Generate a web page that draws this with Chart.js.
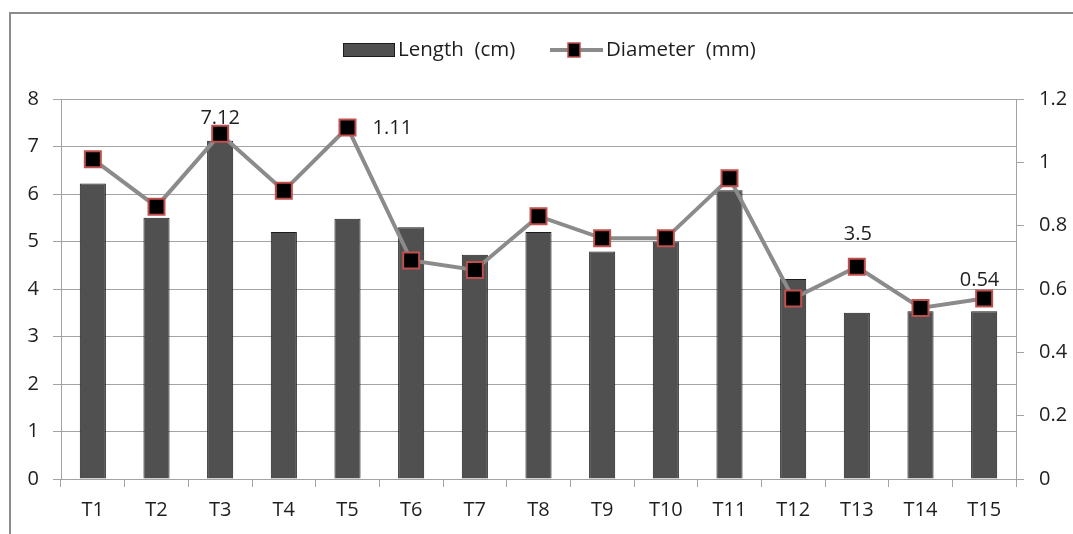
<!DOCTYPE html>
<html>
<head>
<meta charset="utf-8">
<script src="https://cdn.jsdelivr.net/npm/chart.js@4.4.1/dist/chart.umd.min.js"></script>
<style>
  html, body { margin: 0; padding: 0; background: #fff; }
  #wrap { position: relative; width: 1073px; height: 534px; overflow: hidden; }
  #frame { position: absolute; left: 9px; top: 12px; width: 1200px; height: 700px;
           border-top: 2px solid #8c8c8c; border-left: 2px solid #8c8c8c; }
  canvas { position: absolute; left: 0; top: 0; }
</style>
</head>
<body>
<div id="wrap">
  <div id="frame"></div>
  <canvas id="chart" width="1073" height="534"></canvas>
</div>
<script>
// Treatments on the category axis
const categories = ['T1', 'T2', 'T3', 'T4', 'T5', 'T6', 'T7', 'T8', 'T9', 'T10', 'T11', 'T12', 'T13', 'T14', 'T15'];

// Length (cm), left axis
const lengthCm = [6.22, 5.5, 7.12, 5.2, 5.48, 5.3, 4.72, 5.2, 4.79, 5.0, 6.08, 4.21, 3.5, 3.53, 3.53];

// Diameter (mm), right axis
const diameterMm = [1.01, 0.86, 1.09, 0.91, 1.11, 0.69, 0.66, 0.83, 0.76, 0.76, 0.95, 0.57, 0.67, 0.54, 0.57];

// Tick labels for both value axes
const lengthTicks = ['0', '1', '2', '3', '4', '5', '6', '7', '8'];
const diameterTicks = ['0', '0.2', '0.4', '0.6', '0.8', '1', '1.2'];

// Series names
const seriesNames = ['Length  (cm)', 'Diameter  (mm)'];

const FONT = '"Open Sans", "Liberation Sans", sans-serif';
const TICK_SIZE = 20;
const TEXT = '#1e1e1e';
const GRID = '#a3a3a3';
const BAR_FILL = '#505050';
const BAR_EDGE = '#1c1c1c';
const LINE = '#8b8b8b';
const MARK_FILL = '#000000';
const MARK_EDGE = '#c0504d';

// Callouts: which dataset/point supplies the text, and where it sits relative to that point
const callouts = [
  { dataset: 0, index: 2,  dx: 0,  dy: -23, align: 'center' },
  { dataset: 1, index: 4,  dx: 25, dy: 1,   align: 'left' },
  { dataset: 0, index: 12, dx: 1,  dy: -78, align: 'center' },
  { dataset: 1, index: 13, dx: 59, dy: -28, align: 'center' }
];

const calloutPlugin = {
  id: 'callouts',
  afterDatasetsDraw(chart) {
    const ctx = chart.ctx;
    ctx.save();
    ctx.font = TICK_SIZE + 'px ' + FONT;
    ctx.fillStyle = TEXT;
    ctx.textBaseline = 'middle';
    callouts.forEach(c => {
      const el = chart.getDatasetMeta(c.dataset).data[c.index];
      const value = chart.data.datasets[c.dataset].data[c.index];
      ctx.textAlign = c.align;
      ctx.fillText(String(value), el.x + c.dx, el.y + c.dy);
    });
    ctx.restore();
  }
};

// Legend across the top: a filled box for the bars, a line with a square marker for the line series
const legendPlugin = {
  id: 'topLegend',
  afterDraw(chart) {
    const ctx = chart.ctx;
    const cy = 50;
    ctx.save();
    ctx.font = '20.5px ' + FONT;
    ctx.textBaseline = 'middle';
    ctx.textAlign = 'left';

    // bar swatch
    ctx.fillStyle = BAR_FILL;
    ctx.strokeStyle = BAR_EDGE;
    ctx.lineWidth = 1;
    ctx.fillRect(343, cy - 7, 52, 14);
    ctx.strokeRect(343.5, cy - 6.5, 51, 13);
    ctx.fillStyle = TEXT;
    ctx.fillText(seriesNames[0], 398, cy);

    // line swatch with marker
    ctx.strokeStyle = LINE;
    ctx.lineWidth = 4;
    ctx.beginPath();
    ctx.moveTo(550, cy);
    ctx.lineTo(603, cy);
    ctx.stroke();
    const mx = 574;
    ctx.fillStyle = MARK_FILL;
    ctx.fillRect(mx - 6, cy - 7, 12, 14);
    ctx.strokeStyle = MARK_EDGE;
    ctx.lineWidth = 1.5;
    ctx.strokeRect(mx - 6, cy - 7, 12, 14);
    ctx.fillStyle = TEXT;
    ctx.fillText(seriesNames[1], 606, cy);
    ctx.restore();
  }
};

new Chart(document.getElementById('chart'), {
  data: {
    labels: categories,
    datasets: [
      {
        type: 'bar',
        label: seriesNames[0],
        data: lengthCm,
        yAxisID: 'y',
        backgroundColor: BAR_FILL,
        borderColor: BAR_EDGE,
        borderWidth: 1,
        barPercentage: 0.41,
        categoryPercentage: 1,
        order: 2
      },
      {
        type: 'line',
        label: seriesNames[1],
        data: diameterMm,
        yAxisID: 'y1',
        borderColor: LINE,
        borderWidth: 4,
        tension: 0,
        fill: false,
        pointStyle: 'rect',
        pointRadius: 11.3,
        pointHoverRadius: 11.3,
        pointBackgroundColor: MARK_FILL,
        pointBorderColor: MARK_EDGE,
        pointBorderWidth: 2,
        pointHoverBorderWidth: 2,
        order: 1
      }
    ]
  },
  options: {
    responsive: false,
    devicePixelRatio: 1,
    animation: false,
    events: [],
    layout: { padding: { top: 99, left: 0, right: 0, bottom: 0 } },
    plugins: {
      legend: { display: false },
      tooltip: { enabled: false },
      title: { display: false }
    },
    scales: {
      x: {
        type: 'category',
        offset: true,
        grid: { offset: true, drawOnChartArea: false, drawTicks: true, tickLength: 8, color: GRID },
        border: { display: true, color: GRID },
        ticks: { font: { family: FONT, size: TICK_SIZE }, color: TEXT, padding: 11, maxRotation: 0, autoSkip: false },
        afterFit(s) { s.height = 55; }
      },
      y: {
        type: 'linear',
        position: 'left',
        min: 0,
        max: 8,
        grid: { color: GRID, tickLength: 8, drawTicks: true },
        border: { display: true, color: GRID },
        ticks: {
          stepSize: 1,
          font: { family: FONT, size: TICK_SIZE },
          color: TEXT,
          padding: 14,
          callback: (v, i) => lengthTicks[i]
        },
        afterFit(s) { s.width = 61; }
      },
      y1: {
        type: 'linear',
        position: 'right',
        min: 0,
        max: 1.2,
        grid: { drawOnChartArea: false, color: GRID, tickLength: 8, drawTicks: true },
        border: { display: true, color: GRID },
        ticks: {
          stepSize: 0.2,
          font: { family: FONT, size: TICK_SIZE },
          color: TEXT,
          padding: 15,
          callback: (v, i) => diameterTicks[i]
        },
        afterFit(s) { s.width = 57; }
      }
    }
  },
  plugins: [calloutPlugin, legendPlugin]
});
</script>
</body>
</html>
